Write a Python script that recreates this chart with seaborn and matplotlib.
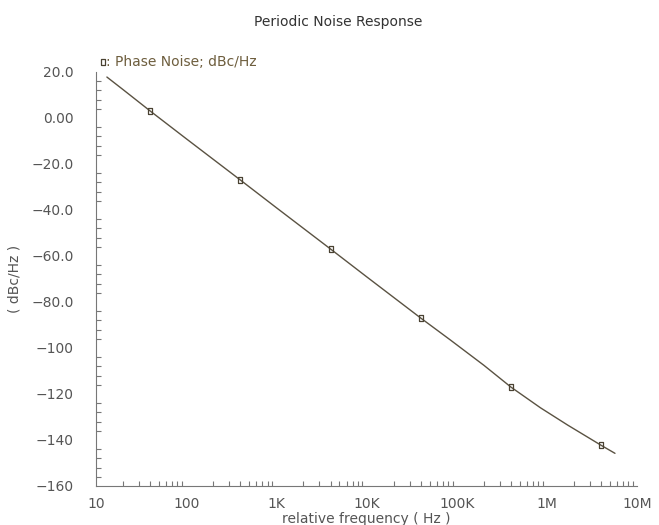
import numpy as np
import pandas as pd
import seaborn as sns
import matplotlib.pyplot as plt
from matplotlib.ticker import FixedLocator, LogLocator, MultipleLocator, NullFormatter

# curve
freq = [13.2, 20, 40, 100, 400, 1000, 4000, 10000, 40000, 85000, 200000,
        400000, 850000, 1700000, 4000000, 5700000]
noise = [17.8, 12.3, 3.0, -9.0, -27.0, -39.0, -57.0, -69.0, -87.0, -96.5, -107.5,
         -117.0, -126.0, -133.5, -142.3, -145.8]

# marker positions
mark_freq = [40, 400, 4000, 40000, 400000, 4000000]
mark_noise = [3.0, -27.0, -57.0, -87.0, -117.0, -142.3]

x_ticks = [10, 100, 1e3, 1e4, 1e5, 1e6, 1e7]
x_labels = ["10", "100", "1K", "10K", "100K", "1M", "10M"]
y_ticks = [20, 0, -20, -40, -60, -80, -100, -120, -140, -160]
y_labels = ["20.0", "0.00", "\u221220.0", "\u221240.0", "\u221260.0", "\u221280.0",
            "\u2212100", "\u2212120", "\u2212140", "\u2212160"]

line_color = "#5a5242"
text_gray = "#555555"
legend_color = "#6e5e3e"

sns.set_style("white")
plt.rcParams["font.family"] = ["DejaVu Sans"]

df = pd.DataFrame({"freq": freq, "noise": noise})
df_m = pd.DataFrame({"freq": mark_freq, "noise": mark_noise})

fig = plt.figure(figsize=(6.59, 5.25), dpi=100)
ax = fig.add_axes([0.1457, 0.0743, 0.8209, 0.7886])

sns.lineplot(data=df, x="freq", y="noise", ax=ax, color=line_color, linewidth=1.0)

rect = [(-0.45, -1), (0.45, -1), (0.45, 1), (-0.45, 1), (-0.45, -1)]
ax.plot(df_m["freq"], df_m["noise"], linestyle="none", marker=rect, markersize=5,
        markerfacecolor="none", markeredgecolor="#4a4232", markeredgewidth=0.9)

ax.set_xscale("log")
ax.set_xlim(10, 1e7)
ax.set_ylim(-160, 20)

ax.xaxis.set_major_locator(FixedLocator(x_ticks))
ax.set_xticklabels(x_labels)
ax.xaxis.set_minor_locator(LogLocator(base=10, subs=np.arange(2, 10)))
ax.xaxis.set_minor_formatter(NullFormatter())
ax.yaxis.set_major_locator(FixedLocator(y_ticks))
ax.set_yticklabels(y_labels)
ax.yaxis.set_minor_locator(MultipleLocator(4))

for side in ["top", "right"]:
    ax.spines[side].set_visible(False)
for side in ["left", "bottom"]:
    ax.spines[side].set_color("#777777")
    ax.spines[side].set_linewidth(0.8)

ax.tick_params(which="major", direction="in", length=6, width=0.8, color="#777777",
               labelsize=10, labelcolor=text_gray)
ax.tick_params(which="minor", direction="in", length=3.5, width=0.8, color="#777777")
ax.tick_params(axis="y", which="major", pad=16)
ax.tick_params(axis="x", which="major", pad=8)
ax.tick_params(axis="x", which="minor", bottom=True)
ax.tick_params(axis="y", which="minor", left=True)

ax.set_xlabel("relative frequency ( Hz )", fontsize=10, color=text_gray, labelpad=1)
ax.set_ylabel("( dBc/Hz )", fontsize=10, color=text_gray, labelpad=7)

fig.text(338 / 659, 1 - 22 / 525, "Periodic Noise Response", ha="center", va="center",
         fontsize=10, color="#333333")

# legend line at the top left
fig.lines.append(plt.Line2D([103 / 659], [1 - 62 / 525], transform=fig.transFigure,
                            marker=rect, markersize=5, linestyle="none",
                            markerfacecolor="none", markeredgecolor="#4a4232",
                            markeredgewidth=0.9))
fig.text(106 / 659, 1 - 62 / 525, ": Phase Noise; dBc/Hz", ha="left", va="center",
         fontsize=10, color=legend_color)

plt.savefig("out.png", dpi=100)
plt.close()
